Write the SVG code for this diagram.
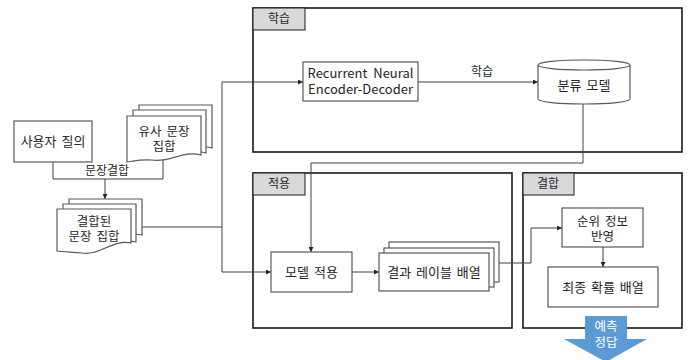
<svg xmlns="http://www.w3.org/2000/svg" width="689" height="360" viewBox="0 0 689 360">
<defs>
<marker id="ah" viewBox="0 0 10 10" refX="10" refY="5" markerWidth="5" markerHeight="5" orient="auto" markerUnits="userSpaceOnUse">
<path d="M0,0 L10,5 L0,10 z" fill="#262626"/>
</marker>
<style>
text{font-family:"Malgun Gothic","Noto Sans CJK KR","Noto Sans",sans-serif;font-size:13px;fill:#262626;text-anchor:middle;word-spacing:2px}
.frame{fill:none;stroke:#1a1a1a;stroke-width:1.6}
.tab{fill:#d9d9d9;stroke:#1a1a1a;stroke-width:1}
.box{fill:#fff;stroke:#595959;stroke-width:1.2}
.conn{fill:none;stroke:#404040;stroke-width:1}
.tabt{font-size:12px}
.two{font-size:12.5px}
</style>
</defs>
<rect width="689" height="360" fill="#fff"/>

<g id="frame-learn">
<rect class="frame" x="253" y="8" width="429" height="144"/>
<rect class="tab" x="253" y="8" width="52" height="22"/>
<text class="tabt" x="279" y="23">학습</text>
</g>
<g id="frame-apply">
<rect class="frame" x="253" y="173" width="259" height="155"/>
<rect class="tab" x="253" y="173" width="52" height="22"/>
<text class="tabt" x="279" y="188">적용</text>
</g>
<g id="frame-combine">
<rect class="frame" x="523" y="173" width="159" height="155"/>
<rect class="tab" x="523" y="173" width="51" height="22"/>
<text class="tabt" x="548" y="188">결합</text>
</g>

<g id="connectors">
<path class="conn" d="M53,162 V179 H163 V158"/>
<path class="conn" d="M105,179 V199" marker-end="url(#ah)"/>
<path class="conn" d="M142,227 H222"/>
<path class="conn" d="M222,82 V272"/>
<path class="conn" d="M222,82 H303" marker-end="url(#ah)"/>
<path class="conn" d="M222,272 H271" marker-end="url(#ah)"/>
<path class="conn" d="M418,82 H538" marker-end="url(#ah)"/>
<path class="conn" d="M583,104 V163 H311 V252" marker-end="url(#ah)"/>
<path class="conn" d="M352,272 H379" marker-end="url(#ah)"/>
<path class="conn" d="M499,263 H531 V228 H562" marker-end="url(#ah)"/>
<path class="conn" d="M603,247 V267" marker-end="url(#ah)"/>
<text x="107" y="175" style="font-size:12px">문장결합</text>
<text x="482" y="76" style="font-size:12px">학습</text>
</g>

<g id="user-query">
<rect class="box" x="14" y="121" width="78" height="41"/>
<text x="53" y="146">사용자 질의</text>
</g>

<g id="similar-docs">
<path class="box" d="M139,105 H212 V148 C194,143 180,155 163,152 C152,151 145,154 139,156 Z"/>
<path class="box" d="M133,110 H206 V153 C188,148 174,160 157,157 C146,156 139,159 133,161 Z"/>
<path class="box" d="M127,116 H201 V155 C183,150 170,163 152,160 C141,159 134,161 127,162 Z"/>
<text class="two" x="164" y="136"><tspan x="164">유사 문장</tspan><tspan x="164" dy="15">집합</tspan></text>
</g>

<g id="combined-docs">
<path class="box" d="M69,199 H142 V235 C124,231 110,244 93,241 C82,240 75,243 69,245 Z"/>
<path class="box" d="M63,204 H136 V242 C118,238 104,250 87,247 C76,246 69,249 63,250 Z"/>
<path class="box" d="M57,209 H131 V243 C113,239 99,256 82,253 C71,252 64,252 57,251 Z"/>
<text class="two" x="94" y="226"><tspan x="94">결합된</tspan><tspan x="94" dy="15">문장 집합</tspan></text>
</g>

<g id="rnn">
<rect class="box" x="303" y="62" width="115" height="39"/>
<text x="360.5" y="78"><tspan x="360.5" style="word-spacing:3px">Recurrent Neural</tspan><tspan x="360.5" dy="16">Encoder-Decoder</tspan></text>
</g>

<g id="classifier-model">
<path class="box" d="M538,65 V99 A46,5 0 0 0 630,99 V65"/>
<ellipse class="box" cx="584" cy="65" rx="46" ry="5"/>
<text x="584" y="90">분류 모델</text>
</g>

<g id="model-apply">
<rect class="box" x="271" y="252" width="81" height="40"/>
<text x="311.5" y="277">모델 적용</text>
</g>

<g id="result-labels">
<rect class="box" x="389" y="242" width="110" height="40"/>
<rect class="box" x="384" y="248" width="110" height="39"/>
<rect class="box" x="379" y="253" width="110" height="38"/>
<text x="434" y="277">결과 레이블 배열</text>
</g>

<g id="rank-info">
<rect class="box" x="562" y="208" width="81" height="39"/>
<text class="two" x="602.5" y="226"><tspan x="602.5">순위 정보</tspan><tspan x="602.5" dy="15">반영</tspan></text>
</g>

<g id="final-prob">
<rect class="box" x="548" y="267" width="110" height="40"/>
<text x="603" y="292">최종 확률 배열</text>
</g>

<g id="prediction-arrow">
<path d="M585,316 H627 V339 H647 L606,362 L564,339 H585 Z" fill="#5b9bd5"/>
<text class="two" x="606" y="331" style="fill:#fff"><tspan x="606">예측</tspan><tspan x="606" dy="16">정답</tspan></text>
</g>
</svg>
